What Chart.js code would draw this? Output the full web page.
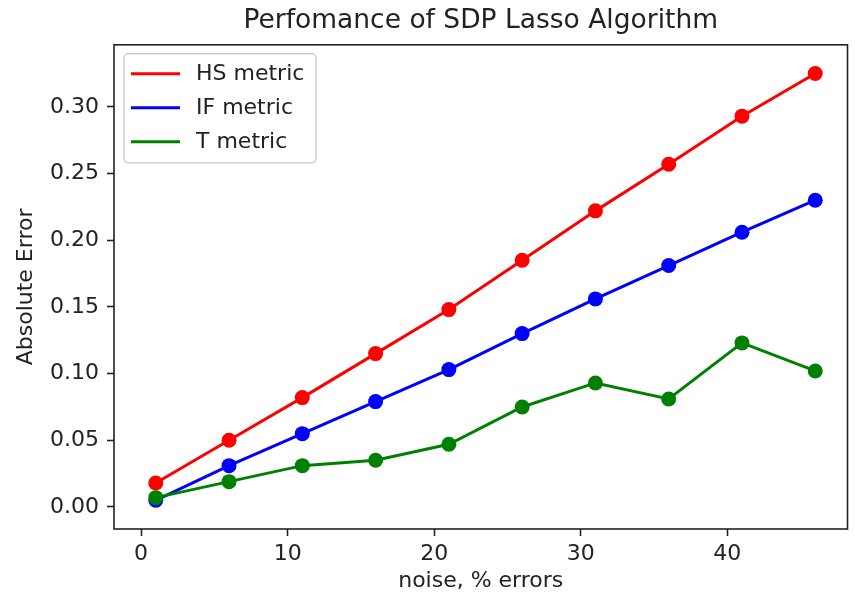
<!DOCTYPE html>
<html>
<head>
<meta charset="utf-8">
<title>Perfomance of SDP Lasso Algorithm</title>
<script src="https://cdn.jsdelivr.net/npm/chart.js@4.4.0/dist/chart.umd.min.js"></script>
<style>
  html, body { margin: 0; padding: 0; background: #fff; }
  canvas { display: block; }
</style>
</head>
<body>
<canvas id="perf" width="855" height="600"></canvas>
<script>
// noise level (% errors) of each run
var noise = [1, 6, 11, 16, 21, 26, 31, 36, 41, 46];

// absolute error for each metric
var hsError = [0.018, 0.050, 0.082, 0.115, 0.148, 0.185, 0.222, 0.257, 0.293, 0.325];
var ifError = [0.005, 0.031, 0.055, 0.079, 0.103, 0.130, 0.156, 0.181, 0.206, 0.230];
var tError  = [0.007, 0.019, 0.031, 0.035, 0.047, 0.075, 0.093, 0.081, 0.123, 0.102];

var xTicks = [0, 10, 20, 30, 40];
var yTicks = [0, 0.05, 0.10, 0.15, 0.20, 0.25, 0.30];

var FONT = 'DejaVu Sans';
var INK = '#222';

function points(ys) {
    return noise.map(function(x, i) { return {x: x, y: ys[i]}; });
}

function series(label, ys, color, order) {
    return {
        label: label,
        data: points(ys),
        borderColor: color,
        backgroundColor: color,
        borderWidth: 3,
        pointRadius: 7.5,
        pointBorderWidth: 0,
        pointHoverRadius: 7.5,
        tension: 0,
        order: order
    };
}

// black box round the plot, like the axes spines
var frame = {
    id: 'frame',
    afterDatasetsDraw: function(chart) {
        var a = chart.chartArea, ctx = chart.ctx;
        ctx.save();
        ctx.strokeStyle = '#222';
        ctx.lineWidth = 1.6;
        ctx.strokeRect(a.left, a.top, a.right - a.left, a.bottom - a.top);
        ctx.restore();
    }
};

// legend box in the upper left corner of the plot
var boxLegend = {
    id: 'boxLegend',
    afterDatasetsDraw: function(chart) {
        var a = chart.chartArea, ctx = chart.ctx;
        var x = a.left + 10, y = a.top + 9, w = 192, h = 109;
        ctx.save();
        ctx.beginPath();
        ctx.roundRect(x, y, w, h, 4);
        ctx.fillStyle = 'rgba(255,255,255,0.8)';
        ctx.fill();
        ctx.strokeStyle = 'rgba(204,204,204,0.9)';
        ctx.lineWidth = 1.5;
        ctx.stroke();
        ctx.font = '22px "' + FONT + '"';
        ctx.textBaseline = 'middle';
        chart.data.datasets.forEach(function(ds, i) {
            var rowY = y + 20 + i * 34;
            ctx.strokeStyle = ds.borderColor;
            ctx.lineWidth = 3;
            ctx.beginPath();
            ctx.moveTo(x + 7, rowY);
            ctx.lineTo(x + 56, rowY);
            ctx.stroke();
            ctx.fillStyle = INK;
            ctx.fillText(ds.label, x + 72, rowY);
        });
        ctx.restore();
    }
};

var tickFont = {family: FONT, size: 22};

new Chart(document.getElementById('perf'), {
    type: 'line',
    data: {
        datasets: [
            series('HS metric', hsError, '#ff0000', 3),
            series('IF metric', ifError, '#0000ff', 2),
            series('T metric', tError, '#008000', 1)
        ]
    },
    options: {
        responsive: false,
        devicePixelRatio: 1,
        animation: false,
        layout: {padding: {top: 0, right: 2, bottom: 0, left: 0}},
        plugins: {
            legend: {display: false},
            tooltip: {enabled: false},
            title: {
                display: true,
                fullSize: false,
                text: 'Perfomance of SDP Lasso Algorithm',
                color: INK,
                font: {family: FONT, size: 26.5, weight: 'normal'},
                padding: {top: 5, bottom: 8}
            }
        },
        scales: {
            x: {
                type: 'linear',
                min: -1.85,
                max: 48.2,
                afterBuildTicks: function(s) {
                    s.ticks = xTicks.map(function(v) { return {value: v}; });
                },
                afterFit: function(s) { s.height = 71; },
                border: {display: false},
                grid: {drawOnChartArea: false, tickLength: 7, tickWidth: 1.6, color: '#222'},
                ticks: {
                    font: tickFont, color: INK, padding: 5, maxRotation: 0, autoSkip: false,
                    callback: function(v) { return String(v); }
                },
                title: {
                    display: true, text: 'noise, % errors', color: INK,
                    font: tickFont, padding: {top: 0, bottom: 6}
                }
            },
            y: {
                min: -0.0165,
                max: 0.3465,
                afterBuildTicks: function(s) {
                    s.ticks = yTicks.map(function(v) { return {value: v}; });
                },
                afterFit: function(s) { s.width = 114; },
                border: {display: false},
                grid: {drawOnChartArea: false, tickLength: 7, tickWidth: 1.6, color: '#222'},
                ticks: {
                    font: tickFont, color: INK, padding: 8, autoSkip: false,
                    callback: function(v) { return v.toFixed(2); }
                },
                title: {
                    display: true, text: 'Absolute Error', color: INK,
                    font: tickFont, padding: {top: 13, bottom: 0}
                }
            }
        }
    },
    plugins: [frame, boxLegend]
});
</script>
</body>
</html>
